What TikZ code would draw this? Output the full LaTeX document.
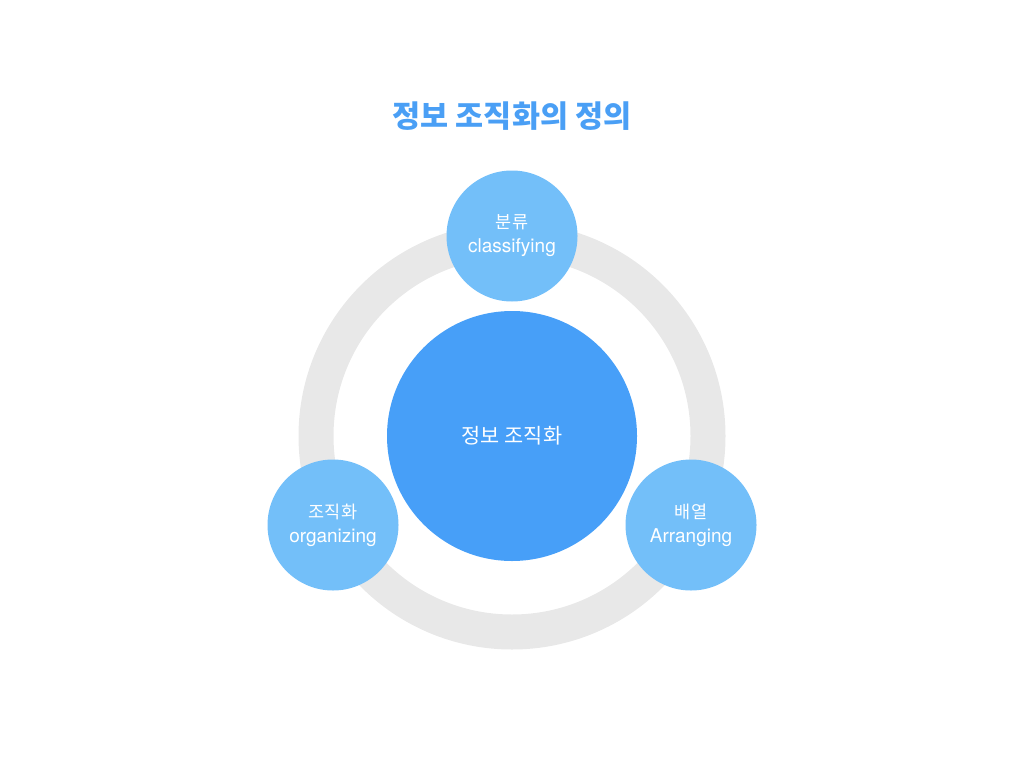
\documentclass[tikz,border=0pt]{standalone}
\usepackage{fontspec}
\setmainfont{TeX Gyre Heros}
\newfontfamily\kr{Noto Sans CJK KR}
\definecolor{titleblue}{HTML}{4A9FF5}
\definecolor{mainblue}{HTML}{479FF8}
\definecolor{lightblue}{HTML}{73BFF9}
\definecolor{ringgray}{HTML}{E8E8E8}

\begin{document}
\begin{tikzpicture}[x=1pt,y=-1pt]

      \useasboundingbox (0,0) rectangle (1024,768);

      \node[text=titleblue] (title) at (512,116)
        {\kr\bfseries\fontsize{30.5}{34}\selectfont 정보 조직화의 정의};

      \node[circle, draw=ringgray, line width=35pt, minimum size=392pt] (ring) at (512,436) {};

      \begin{scope}[every node/.style={circle,text=white,align=center,inner sep=0pt,
          font=\fontsize{19}{24}\selectfont}]
        \node[fill=mainblue, minimum size=250pt] (c) at (512,436)
          {\kr\fontsize{20.8}{24}\selectfont 정보 조직화};
        \node[fill=lightblue, minimum size=131pt] (1) at (512,236)
          {{\kr\fontsize{17.5}{24}\selectfont 분류}\\classifying};
        \node[fill=lightblue, minimum size=131pt] (2) at (333,525)
          {{\kr\fontsize{17.5}{24}\selectfont 조직화}\\organizing};
        \node[fill=lightblue, minimum size=131pt] (3) at (691,525)
          {{\kr\fontsize{17.5}{24}\selectfont 배열}\\Arranging};
      \end{scope}

    \end{tikzpicture}
\end{document}
